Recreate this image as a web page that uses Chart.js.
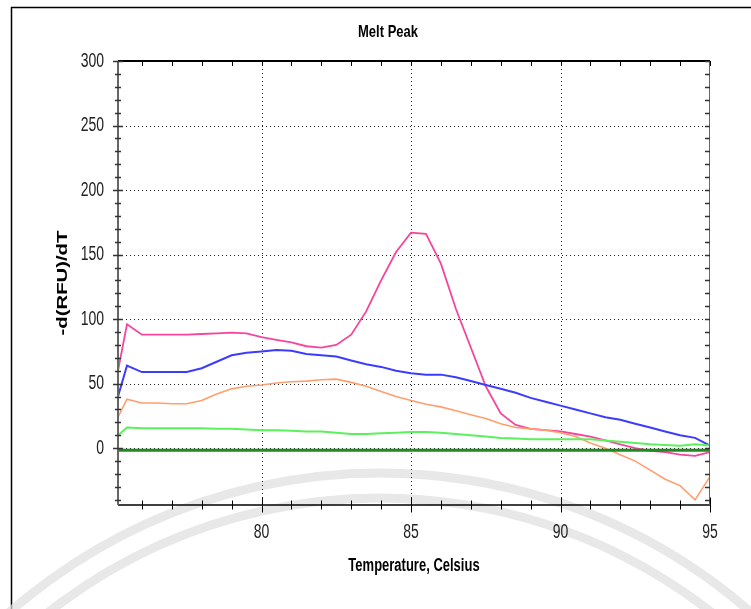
<!DOCTYPE html>
<html>
<head>
<meta charset="utf-8">
<title>Melt Peak</title>
<script src="https://cdn.jsdelivr.net/npm/chart.js@4/dist/chart.umd.min.js"></script>
<style>
  body { margin: 0; background: #fff; }
  #wrap { width: 751px; height: 609px; }
</style>
</head>
<body>
<div id="wrap"><canvas id="melt" width="751" height="609"></canvas></div>
<script>
// temperatures (Celsius) the curves are sampled at
const temps = [75.2, 75.5, 76, 76.5, 77, 77.5, 78, 78.5, 79, 79.5, 80, 80.5, 81, 81.5, 82, 82.5, 83, 83.5, 84, 84.5,
  85, 85.5, 86, 86.5, 87, 87.5, 88, 88.5, 89, 89.5, 90, 90.5, 91, 91.5, 92, 92.5, 93, 93.5, 94, 94.5, 95];

// -d(RFU)/dT per well
const pinkWell = [60, 96, 88, 88, 88, 88, 88.5, 89, 89.5, 89, 86, 84, 82, 79, 78, 80, 88, 106, 130, 152,
  167, 166, 143, 108, 78, 48, 27, 18, 15, 14, 13, 11, 9, 6, 3, 0, -2, -3, -5, -6, -3];
const blueWell = [40, 64, 59, 59, 59, 59, 62, 67, 72, 74, 75, 76, 75.5, 73, 72, 71, 68, 65, 63, 60,
  58, 57, 57, 55, 52, 49, 46, 43, 39, 36, 33, 30, 27, 24, 22, 19, 16, 13, 10, 8, 2];
const salmonWell = [24, 38, 35, 35, 34.5, 34.5, 37, 42, 46, 48, 49, 50.5, 51.5, 52, 53, 53.5, 51, 48, 44, 40,
  37, 34, 32, 29, 26, 23, 19, 16, 15, 14, 12, 9, 4, 0, -5, -10, -17, -24, -29, -40, -22];
const greenWell = [10, 16, 15.5, 15.5, 15.5, 15.5, 15.5, 15, 15, 14.5, 14, 14, 13.5, 13, 13, 12, 11, 11, 11.5, 12,
  12.5, 12.5, 12, 11, 10, 9, 8, 7.5, 7, 7, 7, 7, 7, 6, 5, 4, 3, 2.5, 2, 3, 2];

// negative control, flat
const ntcTemps = [75.2, 95];
const ntcWell = [-1.5, -1.5];

// axis ticks
const xMajor = [80, 85, 90, 95];
const xMinor = [76, 77, 78, 79, 81, 82, 83, 84, 86, 87, 88, 89, 91, 92, 93, 94];
const yMajor = [0, 50, 100, 150, 200, 250, 300];
const yMinor = [-40, -30, -20, -10, 10, 20, 30, 40, 60, 70, 80, 90, 110, 120, 130, 140, 160, 170, 180, 190,
  210, 220, 230, 240, 260, 270, 280, 290];

function pts(xs, ys) {
  return xs.map((x, i) => ({ x: x, y: ys[i] }));
}

function txt(ctx, s, x, y, font, sy, align) {
  ctx.save();
  ctx.translate(x, y);
  ctx.scale(1, sy);
  ctx.font = font;
  ctx.textAlign = align;
  ctx.textBaseline = 'middle';
  ctx.fillText(s, 0, 0);
  ctx.restore();
}

const FONT = '"Liberation Sans", Arial, sans-serif';

const decor = {
  id: 'decor',
  beforeDraw(chart) {
    const ctx = chart.ctx;
    ctx.save();
    ctx.fillStyle = '#fff';
    ctx.fillRect(0, 0, chart.width, chart.height);
    // outer frame
    ctx.strokeStyle = '#000';
    ctx.lineWidth = 1.5;
    ctx.beginPath();
    ctx.moveTo(11.5, chart.height);
    ctx.lineTo(11.5, 7.5);
    ctx.lineTo(chart.width, 7.5);
    ctx.stroke();
    ctx.restore();
  },
  beforeDatasetsDraw(chart) {
    const ctx = chart.ctx;
    const xs = chart.scales.x, ys = chart.scales.y;
    const a = chart.chartArea;
    ctx.save();
    // faint watermark rings
    ctx.strokeStyle = 'rgba(222,222,222,0.7)';
    ctx.lineWidth = 9;
    [563, 538].forEach(r => {
      ctx.beginPath();
      ctx.arc(380, 1036, r, Math.PI * 1.05, Math.PI * 1.95);
      ctx.stroke();
    });
    // dotted grid
    ctx.strokeStyle = '#222';
    ctx.lineWidth = 1;
    ctx.setLineDash([1, 3]);
    xMajor.slice(0, 3).forEach(v => {
      const px = Math.round(xs.getPixelForValue(v)) + 0.5;
      ctx.beginPath();
      ctx.moveTo(px, a.top);
      ctx.lineTo(px, a.bottom);
      ctx.stroke();
    });
    yMajor.slice(0, 6).forEach(v => {
      const py = Math.round(ys.getPixelForValue(v)) + 0.5;
      ctx.beginPath();
      ctx.moveTo(a.left, py);
      ctx.lineTo(a.right, py);
      ctx.stroke();
    });
    ctx.restore();
  },
  afterDraw(chart) {
    const ctx = chart.ctx;
    const xs = chart.scales.x, ys = chart.scales.y;
    const a = chart.chartArea;
    ctx.save();
    // frame of the plot
    ctx.strokeStyle = '#000';
    ctx.lineWidth = 2;
    ctx.beginPath();
    ctx.moveTo(a.left, a.top);
    ctx.lineTo(a.right, a.top);
    ctx.stroke();
    ctx.lineWidth = 1.5;
    ctx.beginPath();
    ctx.moveTo(a.left, a.bottom);
    ctx.lineTo(a.right, a.bottom);
    ctx.stroke();
    ctx.strokeStyle = '#666';
    ctx.lineWidth = 2;
    ctx.beginPath();
    ctx.moveTo(a.left, a.top);
    ctx.lineTo(a.left, a.bottom);
    ctx.stroke();
    ctx.lineWidth = 1;
    ctx.beginPath();
    ctx.moveTo(a.right - 0.5, a.top);
    ctx.lineTo(a.right - 0.5, a.bottom);
    ctx.stroke();

    // y ticks
    ctx.strokeStyle = '#333';
    ctx.lineWidth = 1.5;
    const yTick = (v, len) => {
      const py = Math.round(ys.getPixelForValue(v)) + 0.5;
      ctx.beginPath();
      ctx.moveTo(a.left - len, py);
      ctx.lineTo(a.left + len, py);
      ctx.moveTo(a.right - 5, py);
      ctx.lineTo(a.right, py);
      ctx.stroke();
    };
    yMinor.forEach(v => yTick(v, 3));
    yMajor.forEach(v => yTick(v, 5));

    // x ticks
    ctx.strokeStyle = '#000';
    ctx.lineWidth = 1;
    const xTick = (v, len) => {
      const px = Math.round(xs.getPixelForValue(v)) + 0.5;
      ctx.beginPath();
      ctx.moveTo(px, a.bottom - len);
      ctx.lineTo(px, a.bottom + len);
      ctx.moveTo(px, a.top);
      ctx.lineTo(px, a.top + 5);
      ctx.stroke();
    };
    xMinor.forEach(v => xTick(v, 4.5));
    xMajor.forEach(v => xTick(v, 7.5));

    // tick labels
    ctx.fillStyle = '#222';
    yMajor.forEach(v => {
      txt(ctx, String(v), 104, ys.getPixelForValue(v), '14px ' + FONT, 1.45, 'right');
    });
    xMajor.forEach(v => {
      txt(ctx, String(v), xs.getPixelForValue(v), 532, '14px ' + FONT, 1.45, 'center');
    });

    // titles
    ctx.fillStyle = '#000';
    txt(ctx, 'Melt Peak', 388, 32, 'bold 13px ' + FONT, 1.3, 'center');
    txt(ctx, 'Temperature, Celsius', (a.left + a.right) / 2, 566, 'bold 13px ' + FONT, 1.35, 'center');
    ctx.save();
    ctx.translate(63, (a.top + a.bottom) / 2);
    ctx.rotate(-Math.PI / 2);
    ctx.scale(1.45, 1);
    ctx.font = 'bold 14px ' + FONT;
    ctx.textAlign = 'center';
    ctx.textBaseline = 'middle';
    ctx.fillText('-d(RFU)/dT', 0, 0);
    ctx.restore();
    ctx.restore();
  }
};

const line = (label, xs, ys, color, width) => ({
  label: label,
  data: pts(xs, ys),
  borderColor: color,
  borderWidth: width,
  pointRadius: 0,
  tension: 0,
  fill: false,
});

new Chart(document.getElementById('melt'), {
  type: 'line',
  data: {
    datasets: [
      line('NTC', ntcTemps, ntcWell, '#1f8a1f', 3),
      line('Green', temps, greenWell, '#5cf05c', 2),
      line('Salmon', temps, salmonWell, '#ff9f6e', 1.6),
      line('Blue', temps, blueWell, '#3c3cff', 2),
      line('Pink', temps, pinkWell, '#f5459c', 1.8),
    ],
  },
  options: {
    responsive: false,
    animation: false,
    layout: { padding: { top: 61, right: 41, left: 0, bottom: 0 } },
    plugins: { legend: { display: false }, title: { display: false }, tooltip: { enabled: false } },
    scales: {
      x: {
        type: 'linear',
        min: 75.2,
        max: 95,
        grid: { display: false },
        border: { display: false },
        ticks: { display: false },
        afterFit: (s) => { s.height = 104; },
      },
      y: {
        min: -44,
        max: 300,
        grid: { display: false },
        border: { display: false },
        ticks: { display: false },
        afterFit: (s) => { s.width = 118; },
      },
    },
  },
  plugins: [decor],
});
</script>
</body>
</html>
